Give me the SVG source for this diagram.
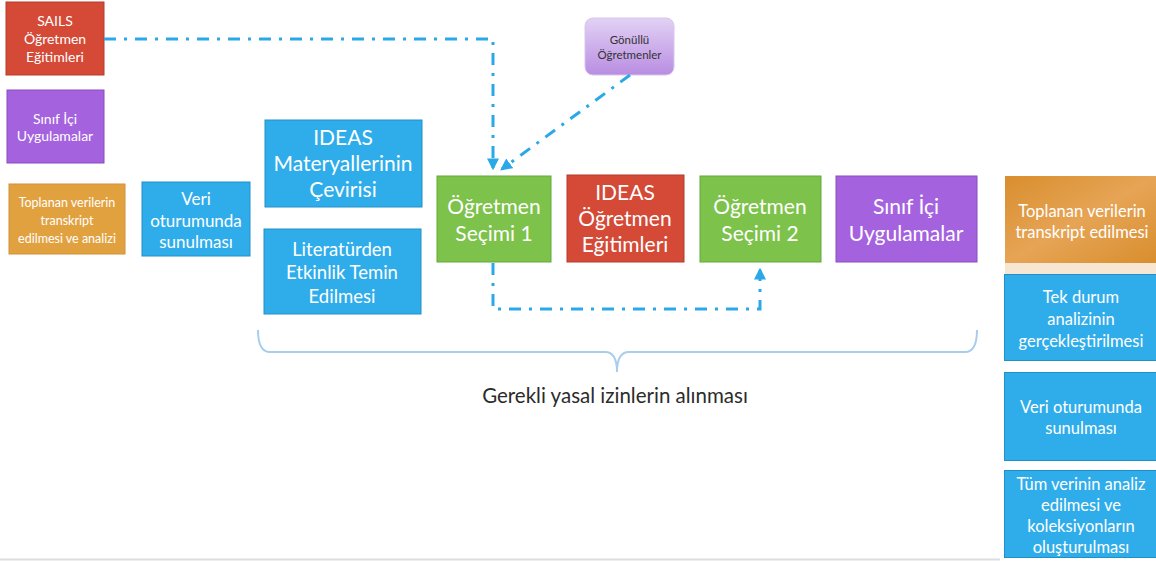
<svg xmlns="http://www.w3.org/2000/svg" width="1156" height="561" viewBox="0 0 1156 561">
<defs>
<linearGradient id="gpurp" x1="0" y1="0" x2="0" y2="1">
<stop offset="0" stop-color="#E2D2F4"/><stop offset="1" stop-color="#B98DE2"/>
</linearGradient>
<linearGradient id="gor" x1="0" y1="0" x2="1" y2="1">
<stop offset="0" stop-color="#D98E2E"/><stop offset="0.5" stop-color="#E6A455"/><stop offset="1" stop-color="#D98E2E"/>
</linearGradient>
<marker id="ah" viewBox="0 0 10 10" refX="8" refY="5" markerWidth="4" markerHeight="4" orient="auto" markerUnits="strokeWidth">
<path d="M0,0 L10,5 L0,10 z" fill="#2AA8E8"/>
</marker>
<style>
text{font-family:Lato,"Open Sans","Liberation Sans",sans-serif;fill:#fff;text-anchor:middle}
.red{fill:#D44A37;stroke:#B83A2B;stroke-width:1}
.pur{fill:#A562DF;stroke:#8A4CC2;stroke-width:1}
.org{fill:#E2A13F;stroke:#D4903A;stroke-width:1}
.blu{fill:#2FADEB;stroke:#2290C8;stroke-width:1}
.grn{fill:#7DC24A;stroke:#64A83A;stroke-width:1}
.con{fill:none;stroke:#2AA8E8;stroke-width:3;stroke-dasharray:12 8 3 8}
</style>
</defs>
<line x1="0" y1="559.5" x2="1000" y2="559.5" stroke="#DDDDDD" stroke-width="2"/>
<g id="n-sails"><rect class="red" x="6" y="2" width="98" height="73"/>
<text font-size="14"><tspan x="55" y="26">SAILS</tspan><tspan x="55" y="44">Öğretmen</tspan><tspan x="55" y="62">Eğitimleri</tspan></text></g>
<g id="n-sinif-small"><rect class="pur" x="7" y="90" width="97" height="73"/>
<text font-size="14"><tspan x="55" y="124">Sınıf İçi</tspan><tspan x="55" y="141">Uygulamalar</tspan></text></g>
<g id="n-toplanan-small"><rect class="org" x="9" y="184" width="116" height="70"/>
<text font-size="12.5"><tspan x="67" y="207">Toplanan verilerin</tspan><tspan x="67" y="225">transkript</tspan><tspan x="67" y="243">edilmesi ve analizi</tspan></text></g>
<g id="n-veri-small"><rect class="blu" x="142" y="182" width="108" height="74"/>
<text font-size="17"><tspan x="196" y="205">Veri</tspan><tspan x="196" y="227">oturumunda</tspan><tspan x="196" y="248">sunulması</tspan></text></g>
<g id="n-ideas-mat"><rect class="blu" x="265" y="120" width="157" height="87"/>
<text font-size="21"><tspan x="343" y="145">IDEAS</tspan><tspan x="343" y="171">Materyallerinin</tspan><tspan x="343" y="197">Çevirisi</tspan></text></g>
<g id="n-literatur"><rect class="blu" x="264" y="229" width="157" height="85"/>
<text font-size="18.5"><tspan x="342" y="256">Literatürden</tspan><tspan x="342" y="279">Etkinlik Temin</tspan><tspan x="342" y="303">Edilmesi</tspan></text></g>
<g id="n-secim1"><rect class="grn" x="437" y="176" width="114" height="86"/>
<text font-size="21"><tspan x="494" y="214">Öğretmen</tspan><tspan x="494" y="241">Seçimi 1</tspan></text></g>
<g id="n-ideas-egit"><rect class="red" x="567" y="175" width="117" height="87"/>
<text font-size="21"><tspan x="625" y="200">IDEAS</tspan><tspan x="625" y="226">Öğretmen</tspan><tspan x="625" y="252">Eğitimleri</tspan></text></g>
<g id="n-secim2"><rect class="grn" x="700" y="176" width="121" height="86"/>
<text font-size="21"><tspan x="760" y="214">Öğretmen</tspan><tspan x="760" y="241">Seçimi 2</tspan></text></g>
<g id="n-sinif-big"><rect class="pur" x="836" y="176" width="141" height="86"/>
<text font-size="21"><tspan x="906" y="214">Sınıf İçi</tspan><tspan x="906" y="241">Uygulamalar</tspan></text></g>
<g id="n-gonullu"><rect x="585" y="18" width="89" height="57" rx="8" fill="url(#gpurp)" stroke="#D8C6EE" stroke-width="1"/>
<text font-size="11.5" style="fill:#333"><tspan x="629.5" y="44">Gönüllü</tspan><tspan x="629.5" y="59">Öğretmenler</tspan></text></g>
<g id="n-toplanan-right"><rect x="1005" y="176" width="151" height="87" fill="url(#gor)"/>
<rect x="1005" y="263" width="151" height="11" fill="#F6E6D2"/>
<text font-size="16.5"><tspan x="1082" y="217">Toplanan verilerin</tspan><tspan x="1082" y="238">transkript edilmesi</tspan></text></g>
<g id="n-tekdurum"><rect class="blu" x="1004.5" y="274.5" width="152" height="86"/>
<text font-size="16.5"><tspan x="1081" y="303">Tek durum</tspan><tspan x="1081" y="325">analizinin</tspan><tspan x="1081" y="347">gerçekleştirilmesi</tspan></text></g>
<g id="n-veri-right"><rect class="blu" x="1004.5" y="372.5" width="152" height="88"/>
<text font-size="16.5"><tspan x="1081" y="413">Veri oturumunda</tspan><tspan x="1081" y="434">sunulması</tspan></text></g>
<g id="n-tum"><rect class="blu" x="1004.5" y="470.5" width="152" height="87"/>
<text font-size="16.5"><tspan x="1081" y="490">Tüm verinin analiz</tspan><tspan x="1081" y="511">edilmesi ve</tspan><tspan x="1081" y="532">koleksiyonların</tspan><tspan x="1081" y="553">oluşturulması</tspan></text></g>
<g id="connectors">
<path class="con" d="M104,39 H493 V168" marker-end="url(#ah)"/>
<path class="con" d="M630,75 L502,169" marker-end="url(#ah)"/>
<path class="con" d="M493,263 V309 H760 V270" marker-end="url(#ah)"/>
<path d="M258,330 Q258,352 270,352 H605 Q617,352 617,372 Q617,352 629,352 H965 Q977,352 977,330" fill="none" stroke="#A9CDEC" stroke-width="2"/>
</g>
<text x="615" y="403" font-size="20.5" style="fill:#2b2b2b">Gerekli yasal izinlerin alınması</text>
</svg>
